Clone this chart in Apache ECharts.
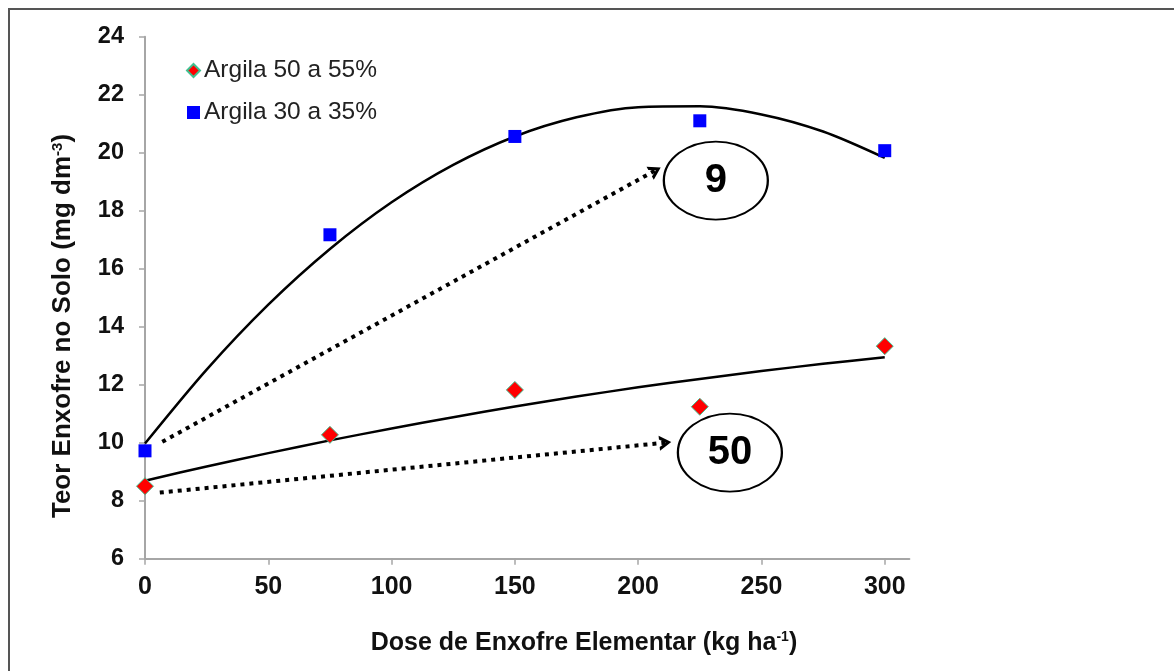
<!DOCTYPE html>
<html>
<head>
<meta charset="utf-8">
<script src="https://cdn.jsdelivr.net/npm/echarts@6/dist/echarts.min.js"></script>
<style>
  html, body { margin: 0; padding: 0; background: #fff; }
  #chart { width: 1174px; height: 671px; }
</style>
</head>
<body>
<div id="chart"></div>
<script>
// Dose de enxofre elementar (kg/ha) and soil sulphur content (mg/dm3)
const dose = [0, 75, 150, 225, 300];
const argila50 = [8.50, 10.27, 11.82, 11.24, 13.33];
const argila30 = [9.72, 17.17, 20.56, 21.10, 20.07];

// Polynomial trend curves, sampled every 25 kg/ha
const trendDose = [0, 25, 50, 75, 100, 125, 150, 175, 200, 225, 250, 275, 300];
const trend30 = [9.97, 12.52, 14.76, 16.68, 18.29, 19.58, 20.56, 21.22, 21.57, 21.60, 21.32, 20.73, 19.82];
const trend50 = [8.69, 9.18, 9.64, 10.08, 10.49, 10.88, 11.25, 11.59, 11.91, 12.20, 12.47, 12.72, 12.95];

// Axis tick values
const xTicks = [0, 50, 100, 150, 200, 250, 300];
const yTicks = [6, 8, 10, 12, 14, 16, 18, 20, 22, 24];

const seriesNames = ['Argila 50 a 55%', 'Argila 30 a 35%'];
const callout30 = '9';
const callout50 = '50';

const pairs = (xs, ys) => xs.map((x, i) => [x, ys[i]]);

const chart = echarts.init(document.getElementById('chart'), null, { renderer: 'canvas' });

const FONT = 'Liberation Sans, Arial, sans-serif';
const axisGray = '#a6a6a6';
const dottedArrow = {
  silent: true,
  symbol: ['none', 'path://M0,12 L7,0 L14,12 L10.5,12 L7,5.5 L3.5,12 Z'],
  symbolSize: [15, 12],
  label: { show: false },
  lineStyle: { color: '#000', width: 4, type: [4, 5], opacity: 1 },
  emphasis: { disabled: true }
};

const calloutStyle = (text) => ({
  type: 'scatter',
  silent: true,
  symbol: 'circle',
  symbolSize: [104, 78],
  itemStyle: { color: 'rgba(255,255,255,0)', borderColor: '#000', borderWidth: 2, opacity: 1 },
  label: {
    show: true, position: 'inside', formatter: text,
    fontFamily: FONT, fontWeight: 'bold', fontSize: 40, color: '#000'
  },
  z: 1
});

chart.setOption({
  backgroundColor: '#ffffff',
  animation: false,
  grid: { left: 145, right: 264.6, top: 36.7, bottom: 112.3, containLabel: false },
  legend: {
    data: seriesNames,
    orient: 'vertical',
    left: 181,
    top: 53,
    itemWidth: 13,
    itemHeight: 13,
    itemGap: 17,
    textStyle: { fontFamily: FONT, fontSize: 24.5, color: '#222', padding: [0, 0, 0, -1] }
  },
  xAxis: {
    type: 'value',
    min: 0,
    max: 310,
    interval: 50,
    splitLine: { show: false },
    axisLine: { show: true, lineStyle: { color: axisGray, width: 2 } },
    axisTick: { show: true, length: 6, customValues: xTicks, lineStyle: { color: axisGray, width: 1.5 } },
    axisLabel: {
      customValues: xTicks,
      margin: 16,
      fontFamily: FONT, fontWeight: 'bold', fontSize: 25, color: '#111'
    }
  },
  yAxis: {
    type: 'value',
    min: yTicks[0],
    max: yTicks[yTicks.length - 1],
    interval: 2,
    splitLine: { show: false },
    axisLine: { show: true, lineStyle: { color: axisGray, width: 2 } },
    axisTick: { show: true, length: 6, lineStyle: { color: axisGray, width: 1.5 } },
    axisLabel: {
      margin: 21,
      fontFamily: FONT, fontWeight: 'bold', fontSize: 23.5, color: '#111'
    }
  },
  graphic: [
    {
      type: 'rect', silent: true,
      shape: { x: 9, y: 9, width: 1300, height: 800 },
      style: { fill: 'none', stroke: '#555', lineWidth: 2 }
    },
    {
      type: 'text', silent: true,
      x: 63, y: 326, rotation: Math.PI / 2,
      style: {
        text: '{t|Teor Enxofre no Solo (mg dm}{s|-3}{t|)}',
        align: 'center', verticalAlign: 'middle',
        rich: {
          t: { fontFamily: FONT, fontWeight: 'bold', fontSize: 26, fill: '#111' },
          s: { fontFamily: FONT, fontWeight: 'bold', fontSize: 15, fill: '#111', verticalAlign: 'top', padding: [0, 0, 10, 0] }
        }
      }
    },
    {
      type: 'text', silent: true,
      x: 584, y: 643,
      style: {
        text: '{t|Dose de Enxofre Elementar (kg ha}{s|-1}{t|)}',
        align: 'center', verticalAlign: 'middle',
        rich: {
          t: { fontFamily: FONT, fontWeight: 'bold', fontSize: 25, fill: '#111' },
          s: { fontFamily: FONT, fontWeight: 'bold', fontSize: 14, fill: '#111', verticalAlign: 'top', padding: [0, 0, 10, 0] }
        }
      }
    }
  ],
  series: [
    {
      name: 'trend30',
      type: 'line',
      data: pairs(trendDose, trend30),
      smooth: 0.3,
      showSymbol: false,
      silent: true,
      lineStyle: { color: '#000', width: 2.5 },
      z: 2
    },
    {
      name: 'trend50',
      type: 'line',
      data: pairs(trendDose, trend50),
      smooth: 0.3,
      showSymbol: false,
      silent: true,
      lineStyle: { color: '#000', width: 2.5 },
      z: 2
    },
    Object.assign(calloutStyle(callout30), { name: 'callout30', data: [[231.5, 19.04]] }),
    Object.assign(calloutStyle(callout50), { name: 'callout50', data: [[237.2, 9.66]] }),
    {
      name: 'arrows',
      type: 'line',
      data: [],
      markLine: Object.assign({}, dottedArrow, {
        data: [
          [{ coord: [7, 10.03] }, { coord: [207, 19.39] }],
          [{ coord: [6, 8.28] }, { coord: [211, 10.0] }]
        ]
      }),
      z: 2
    },
    {
      name: seriesNames[0],
      type: 'scatter',
      data: pairs(dose, argila50),
      symbol: 'diamond',
      symbolSize: 17,
      itemStyle: { color: '#ff0000', borderColor: '#40c090', borderWidth: 1, opacity: 1 },
      z: 5
    },
    {
      name: seriesNames[1],
      type: 'scatter',
      data: pairs(dose, argila30),
      symbol: 'rect',
      symbolSize: 13,
      itemStyle: { color: '#0000ff', opacity: 1 },
      z: 5
    }
  ]
});
</script>
</body>
</html>
